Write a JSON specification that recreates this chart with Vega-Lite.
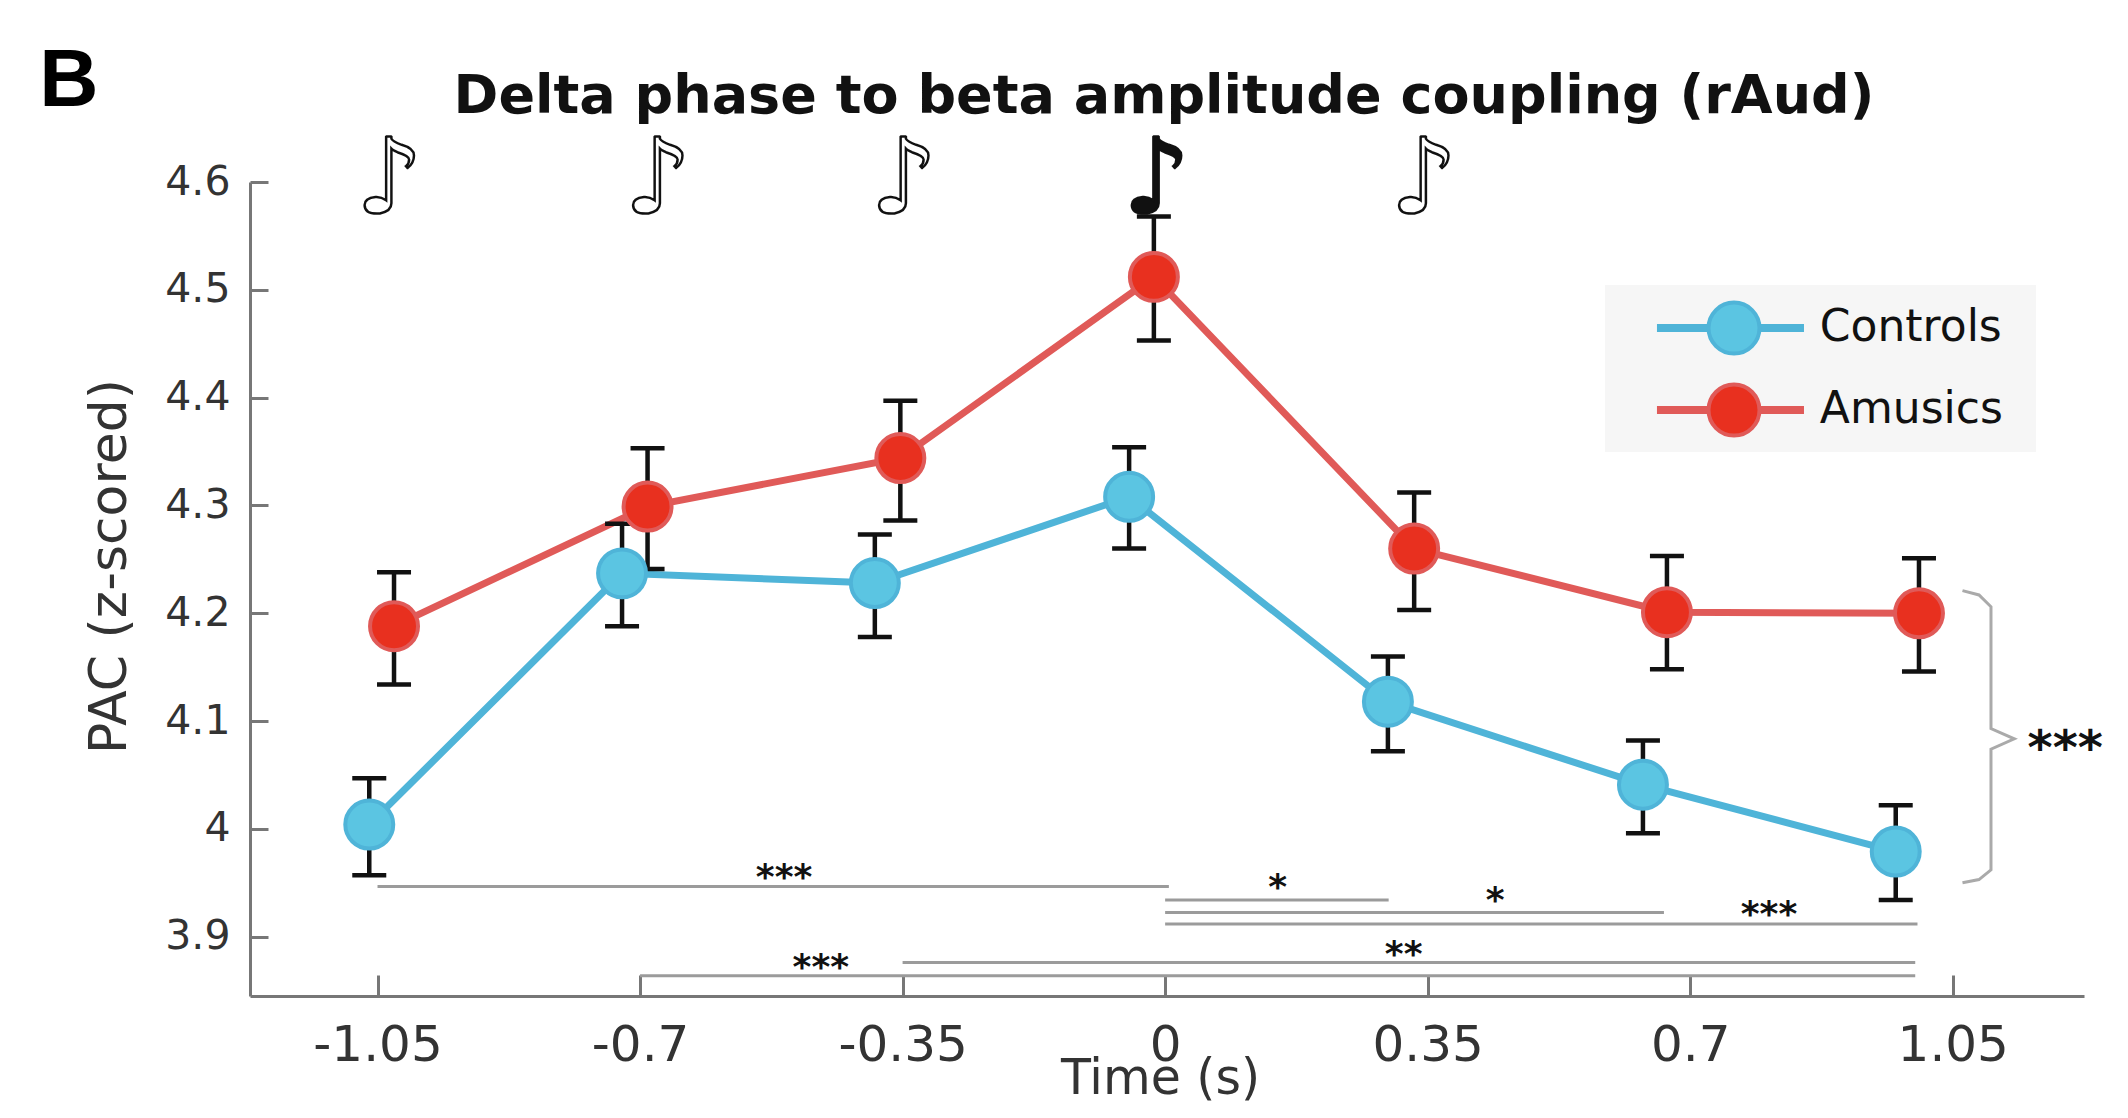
{
  "$schema": "https://vega.github.io/schema/vega-lite/v6.json",
  "width": 1834,
  "height": 814,
  "autosize": {"type": "none"},
  "padding": {"left": 250, "top": 182, "right": 44, "bottom": 122},
  "background": "white",
  "title": {
    "text": "Delta phase to beta amplitude coupling (rAud)",
    "font": "DejaVu Sans",
    "fontSize": 54,
    "fontWeight": "bold",
    "color": "#111111",
    "anchor": "middle",
    "baseline": "alphabetic",
    "offset": -127,
    "dx": -3
  },
  "config": {"view": {"stroke": null}},
  "datasets": {
    "pac": [
      {"group": "Controls", "x": -1.061, "y": 4.004, "lo": 3.957, "hi": 4.047},
      {"group": "Controls", "x": -0.724, "y": 4.237, "lo": 4.188, "hi": 4.283},
      {"group": "Controls", "x": -0.387, "y": 4.228, "lo": 4.178, "hi": 4.273},
      {"group": "Controls", "x": -0.048, "y": 4.308, "lo": 4.260, "hi": 4.354},
      {"group": "Controls", "x": 0.297, "y": 4.118, "lo": 4.072, "hi": 4.160},
      {"group": "Controls", "x": 0.637, "y": 4.041, "lo": 3.996, "hi": 4.082},
      {"group": "Controls", "x": 0.974, "y": 3.979, "lo": 3.934, "hi": 4.022},
      {"group": "Amusics", "x": -1.028, "y": 4.188, "lo": 4.134, "hi": 4.238},
      {"group": "Amusics", "x": -0.690, "y": 4.299, "lo": 4.241, "hi": 4.353},
      {"group": "Amusics", "x": -0.353, "y": 4.344, "lo": 4.286, "hi": 4.397},
      {"group": "Amusics", "x": -0.015, "y": 4.512, "lo": 4.453, "hi": 4.568},
      {"group": "Amusics", "x": 0.332, "y": 4.260, "lo": 4.203, "hi": 4.312},
      {"group": "Amusics", "x": 0.669, "y": 4.201, "lo": 4.148, "hi": 4.253},
      {"group": "Amusics", "x": 1.005, "y": 4.200, "lo": 4.146, "hi": 4.251}
    ],
    "sig": [
      {"x": -1.05, "x2": 0.005, "y": 3.9466},
      {"x": 0.0, "x2": 0.298, "y": 3.934},
      {"x": 0.0, "x2": 0.665, "y": 3.9225},
      {"x": 0.0, "x2": 1.003, "y": 3.9118},
      {"x": -0.35, "x2": 1.0, "y": 3.8761},
      {"x": -0.7, "x2": 1.0, "y": 3.8638}
    ],
    "stars": [
      {"label": "***", "x": -0.508, "y": 3.944},
      {"label": "*", "x": 0.150, "y": 3.935},
      {"label": "*", "x": 0.440, "y": 3.923},
      {"label": "***", "x": 0.805, "y": 3.910},
      {"label": "**", "x": 0.318, "y": 3.873},
      {"label": "***", "x": -0.459, "y": 3.861}
    ],
    "brace": [
      {"order": 1, "x": 1.063, "y": 4.221},
      {"order": 2, "x": 1.085, "y": 4.217},
      {"order": 3, "x": 1.101, "y": 4.206},
      {"order": 4, "x": 1.101, "y": 4.093},
      {"order": 5, "x": 1.132, "y": 4.0836},
      {"order": 6, "x": 1.101, "y": 4.074},
      {"order": 7, "x": 1.101, "y": 3.962},
      {"order": 8, "x": 1.085, "y": 3.953},
      {"order": 9, "x": 1.063, "y": 3.950}
    ],
    "braceStar": [
      {"label": "***", "x": 1.2, "y": 4.0605}
    ],
    "notes": [
      {"note": "♪", "kind": "hollow", "x": -1.034, "y": 4.571},
      {"note": "♪", "kind": "hollow", "x": -0.676, "y": 4.571},
      {"note": "♪", "kind": "hollow", "x": -0.348, "y": 4.571},
      {"note": "♪", "kind": "filled", "x": -0.011, "y": 4.571},
      {"note": "♪", "kind": "hollow", "x": 0.345, "y": 4.571}
    ],
    "panel": [
      {"label": "B", "x": -1.501, "y": 4.6705}
    ],
    "legendBox": [
      {"x": 0.5864, "x2": 1.161, "y": 4.5045, "y2": 4.3496}
    ],
    "legend": [
      {"group": "Controls", "x": 0.7584, "xa": 0.6557, "xb": 0.8517, "xt": 0.8728, "y": 4.4645},
      {"group": "Amusics", "x": 0.7584, "xa": 0.6557, "xb": 0.8517, "xt": 0.8728, "y": 4.3885}
    ]
  },
  "encoding": {
    "x": {
      "field": "x", "type": "quantitative",
      "scale": {"domain": [-1.22, 1.225], "nice": false, "zero": false},
      "axis": {
        "title": "Time (s)",
        "values": [-1.05, -0.7, -0.35, 0, 0.35, 0.7, 1.05],
        "labelExpr": "'' + datum.value",
        "grid": false,
        "tickSize": -21, "tickWidth": 3, "tickColor": "#777777",
        "domainColor": "#777777", "domainWidth": 3,
        "labelFont": "DejaVu Sans", "labelFontSize": 50, "labelColor": "#333333",
        "labelPadding": 45, "labelOverlap": false, "labelFlush": false,
        "titleFont": "DejaVu Sans", "titleFontSize": 49, "titleFontWeight": "normal", "titleColor": "#333333",
        "titleX": 910, "titleY": 97, "titleBaseline": "alphabetic", "titleAlign": "center"
      }
    },
    "y": {
      "field": "y", "type": "quantitative",
      "scale": {"domain": [3.845, 4.6], "nice": false, "zero": false},
      "axis": {
        "title": "PAC (z-scored)",
        "values": [3.9, 4, 4.1, 4.2, 4.3, 4.4, 4.5, 4.6],
        "labelExpr": "'' + datum.value",
        "grid": false,
        "tickSize": -18, "tickWidth": 3, "tickColor": "#777777",
        "domainColor": "#777777", "domainWidth": 3,
        "labelFont": "DejaVu Sans", "labelFontSize": 41, "labelColor": "#333333",
        "labelPadding": 38, "labelOverlap": false, "labelFlush": false,
        "titleFont": "DejaVu Sans", "titleFontSize": 52, "titleFontWeight": "normal", "titleColor": "#333333",
        "titleX": -141, "titleY": 384, "titleBaseline": "middle", "titleAlign": "center", "titleAngle": 270
      }
    }
  },
  "layer": [
    {
      "data": {"name": "sig"},
      "mark": {"type": "rule", "color": "#9b9b9b", "strokeWidth": 3},
      "encoding": {"x2": {"field": "x2"}}
    },
    {
      "data": {"name": "stars"},
      "mark": {"type": "text", "font": "DejaVu Sans", "fontWeight": "bold", "fontSize": 36, "color": "#111111", "align": "center", "baseline": "alphabetic", "clip": false},
      "encoding": {"text": {"field": "label"}}
    },
    {
      "data": {"name": "brace"},
      "mark": {"type": "line", "color": "#aaaaaa", "strokeWidth": 3, "clip": false},
      "encoding": {"order": {"field": "order", "type": "quantitative"}}
    },
    {
      "data": {"name": "braceStar"},
      "mark": {"type": "text", "font": "DejaVu Sans", "fontWeight": "bold", "fontSize": 48, "color": "#111111", "align": "center", "baseline": "alphabetic", "clip": false},
      "encoding": {"text": {"field": "label"}}
    },
    {
      "data": {"name": "notes"},
      "transform": [{"filter": "datum.kind === 'hollow'"}],
      "mark": {"type": "text", "font": "DejaVu Sans", "fontSize": 105, "fill": "white", "stroke": "#111111", "strokeWidth": 2.5, "align": "center", "baseline": "alphabetic", "clip": false},
      "encoding": {"text": {"field": "note"}}
    },
    {
      "data": {"name": "notes"},
      "transform": [{"filter": "datum.kind === 'filled'"}],
      "mark": {"type": "text", "font": "DejaVu Sans", "fontSize": 105, "fill": "#111111", "stroke": "#111111", "strokeWidth": 2.5, "align": "center", "baseline": "alphabetic", "clip": false},
      "encoding": {"text": {"field": "note"}}
    },
    {
      "data": {"name": "panel"},
      "mark": {"type": "text", "font": "Liberation Sans", "fontWeight": "bold", "fontSize": 82, "color": "#000000", "align": "left", "baseline": "alphabetic", "clip": false},
      "encoding": {"text": {"field": "label"}}
    },
    {
      "data": {"name": "pac"},
      "mark": {"type": "line", "strokeWidth": 7},
      "encoding": {
        "stroke": {
          "field": "group", "type": "nominal",
          "scale": {"domain": ["Controls", "Amusics"], "range": ["#4fb4d8", "#e05a58"]},
          "legend": null
        }
      }
    },
    {
      "data": {"name": "pac"},
      "mark": {"type": "rule", "color": "#111111", "strokeWidth": 4.5},
      "encoding": {
        "y": {"field": "lo", "type": "quantitative", "title": "PAC (z-scored)"},
        "y2": {"field": "hi"}
      }
    },
    {
      "data": {"name": "pac"},
      "mark": {"type": "tick", "orient": "horizontal", "color": "#111111", "thickness": 4.5, "size": 34, "opacity": 1},
      "encoding": {
        "y": {"field": "lo", "type": "quantitative", "title": "PAC (z-scored)"}
      }
    },
    {
      "data": {"name": "pac"},
      "mark": {"type": "tick", "orient": "horizontal", "color": "#111111", "thickness": 4.5, "size": 34, "opacity": 1},
      "encoding": {
        "y": {"field": "hi", "type": "quantitative", "title": "PAC (z-scored)"}
      }
    },
    {
      "data": {"name": "pac"},
      "mark": {"type": "point", "filled": true, "size": 2300, "strokeWidth": 4, "opacity": 1},
      "encoding": {
        "fill": {
          "field": "group", "type": "nominal",
          "scale": {"domain": ["Controls", "Amusics"], "range": ["#5bc5e2", "#e8301f"]},
          "legend": null
        },
        "stroke": {
          "field": "group", "type": "nominal",
          "scale": {"domain": ["Controls", "Amusics"], "range": ["#4fb4d8", "#e05a58"]},
          "legend": null
        }
      }
    },
    {
      "data": {"name": "legendBox"},
      "mark": {"type": "rect", "fill": "#f6f6f6", "stroke": null},
      "encoding": {
        "x2": {"field": "x2"},
        "y2": {"field": "y2"}
      }
    },
    {
      "data": {"name": "legend"},
      "mark": {"type": "rule", "strokeWidth": 8},
      "encoding": {
        "x": {"field": "xa", "type": "quantitative", "title": "Time (s)"},
        "x2": {"field": "xb"},
        "stroke": {"field": "group", "type": "nominal", "legend": null}
      }
    },
    {
      "data": {"name": "legend"},
      "mark": {"type": "point", "filled": true, "size": 2600, "strokeWidth": 4, "opacity": 1},
      "encoding": {
        "fill": {"field": "group", "type": "nominal", "legend": null},
        "stroke": {"field": "group", "type": "nominal", "legend": null}
      }
    },
    {
      "data": {"name": "legend"},
      "mark": {"type": "text", "font": "DejaVu Sans", "fontSize": 44, "color": "#111111", "align": "left", "baseline": "middle"},
      "encoding": {
        "x": {"field": "xt", "type": "quantitative", "title": "Time (s)"},
        "text": {"field": "group"}
      }
    }
  ]
}
